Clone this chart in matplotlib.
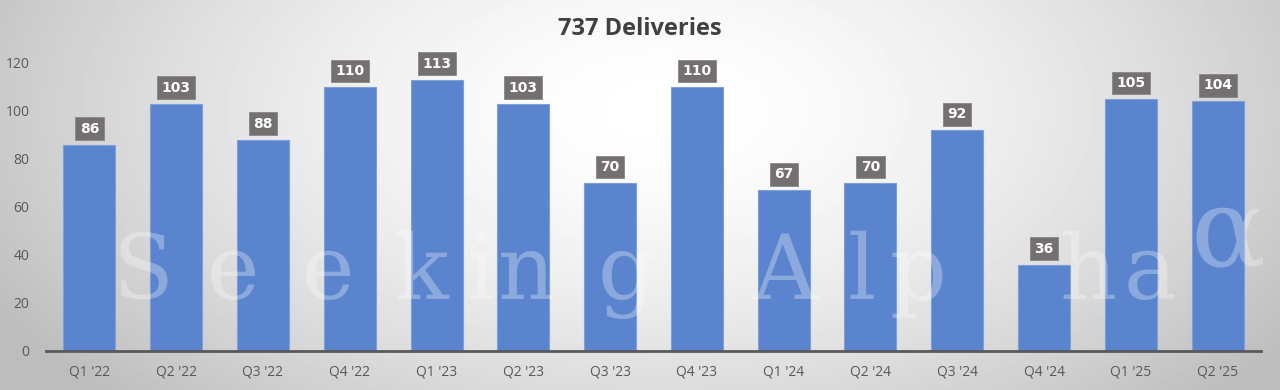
import numpy as np
import matplotlib
matplotlib.use("Agg")
import matplotlib.pyplot as plt

quarters = ["Q1 '22", "Q2 '22", "Q3 '22", "Q4 '22",
            "Q1 '23", "Q2 '23", "Q3 '23", "Q4 '23",
            "Q1 '24", "Q2 '24", "Q3 '24", "Q4 '24",
            "Q1 '25", "Q2 '25"]
deliveries = [86, 103, 88, 110, 113, 103, 70, 110, 67, 70, 92, 36, 105, 104]
yticks = [0, 20, 40, 60, 80, 100, 120]

W, H = 1280, 390
fig = plt.figure(figsize=(12.8, 3.9), dpi=100)

# radial gray background
bg = fig.add_axes([0, 0, 1, 1], zorder=0)
xx, yy = np.meshgrid(np.linspace(0, W, 640), np.linspace(0, H, 195))
r = np.sqrt(((xx - 660) / 760) ** 2 + ((yy - 110) / 420) ** 2)
r = np.clip(r, 0, 1)
shade = 1.0 - 0.26 * r ** 1.6
bg.imshow(shade, cmap="gray", vmin=0, vmax=1, extent=[0, W, H, 0], aspect="auto")
bg.set_axis_off()

ax = fig.add_axes([46 / W, 39 / H, 1215 / W, 312 / H], zorder=1)
ax.patch.set_alpha(0)

x = np.arange(len(quarters))
ax.bar(x, deliveries, width=0.6, color="#5a84cd", edgecolor="#7e9fdb", linewidth=0.8, zorder=2)

for xi, v in zip(x, deliveries):
    ax.annotate(str(v), (xi, v), xytext=(0, 6.5), textcoords="offset points",
                ha="center", va="bottom", color="white", fontsize=10, fontweight="bold",
                family="DejaVu Sans", zorder=5,
                bbox=dict(boxstyle="square,pad=0.32", fc="#747070", ec="#8a8686", lw=0.6))

ax.set_xlim(-0.5, len(quarters) - 0.5)
ax.set_ylim(0, 130)
ax.set_yticks(yticks)
ax.set_xticks(x)
ax.set_xticklabels(quarters)
ax.tick_params(axis="both", length=0, labelsize=10, labelcolor="#595959")
ax.tick_params(axis="y", pad=12)
ax.tick_params(axis="x", pad=10)
for lab in ax.get_xticklabels() + ax.get_yticklabels():
    lab.set_family("Open Sans")
for s in ["top", "right", "left"]:
    ax.spines[s].set_visible(False)
ax.spines["bottom"].set_color("#595959")
ax.spines["bottom"].set_linewidth(2)
ax.spines["bottom"].set_zorder(3)

# watermark, letter by letter (wide tracking)
wm_chars = ["S", "e", "e", "k", "i", "n", "g", "A", "l", "p", "h", "a"]
wm_center = [143, 233, 328, 421, 481, 526, 626, 785, 862, 918, 1088, 1150]
for ch, px in zip(wm_chars, wm_center):
    fig.text(px / W, 1 - 299 / H, ch, fontsize=64, family="DejaVu Serif",
             color="white", alpha=0.3, ha="center", va="baseline", zorder=4)
fig.text(1228 / W, 1 - 266 / H, "α", fontsize=80, family="DejaVu Serif",
         color="white", alpha=0.3, ha="center", va="baseline", zorder=4)

fig.text(0.5, 0.925, "737 Deliveries", ha="center", va="center", fontsize=17,
         fontweight="bold", family="Open Sans", color="#404040", zorder=6)

fig.savefig("out.png", dpi=100)
